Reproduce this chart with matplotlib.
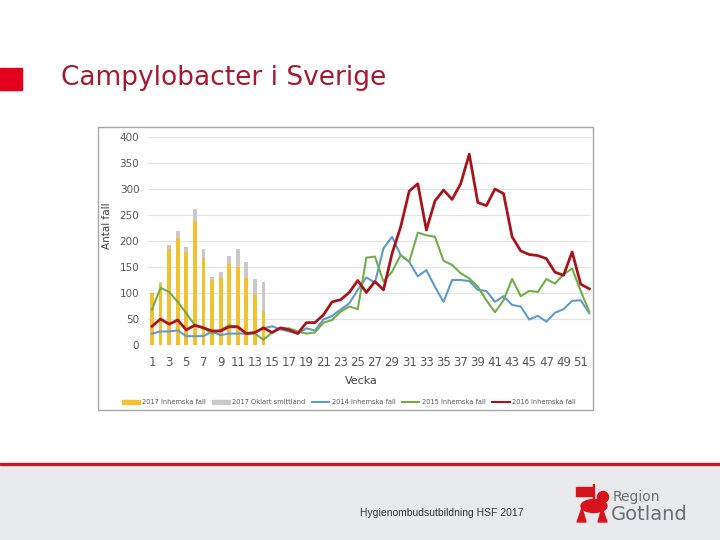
import numpy as np
import matplotlib.pyplot as plt
from matplotlib.patches import Rectangle, Ellipse, Polygon
from matplotlib.lines import Line2D
from matplotlib.patches import Patch

weeks = np.arange(1, 53)
bar_weeks = np.arange(1, 15)

# 2017 (weeks 1-14), stacked
inhemska_2017 = [100, 118, 184, 205, 179, 238, 168, 125, 128, 156, 150, 128, 98, 66]
oklart_2017 = [0, 4, 8, 15, 10, 24, 17, 5, 12, 16, 34, 32, 29, 55]

inhemska_2014 = [22, 26, 26, 28, 17, 17, 17, 26, 19, 22, 22, 22, 24, 32, 36, 30,
                 26, 22, 32, 28, 49, 56, 68, 80, 106, 130, 120, 186, 208, 173,
                 160, 132, 144, 112, 83, 125, 125, 123, 106, 104, 83, 94, 77, 74,
                 49, 56, 45, 62, 69, 85, 86, 61]
inhemska_2015 = [68, 110, 102, 83, 61, 38, 33, 22, 29, 38, 35, 22, 22, 10, 24, 32,
                 32, 26, 22, 24, 43, 48, 64, 74, 69, 168, 170, 122, 141, 173,
                 160, 216, 211, 208, 162, 154, 138, 128, 112, 86, 63, 86, 127, 94,
                 104, 102, 127, 118, 136, 147, 104, 64]
inhemska_2016 = [36, 50, 40, 48, 29, 38, 33, 27, 27, 35, 35, 22, 24, 33, 24, 33,
                 29, 22, 43, 43, 58, 83, 87, 101, 124, 101, 122, 106, 176, 227,
                 296, 310, 221, 277, 298, 280, 310, 367, 274, 268, 300, 291, 208, 181,
                 174, 172, 166, 140, 134, 179, 117, 108]

legend_labels = ["2017 Inhemska fall", "2017 Oklart smittland", "2014 Inhemska fall",
                 "2015 Inhemska fall", "2016 Inhemska fall"]

c_yellow = "#f2c12e"
c_grey = "#c9c9c9"
c_blue = "#5f9bcc"
c_green = "#72ad47"
c_red = "#a8141c"
c_text = "#595959"

fig = plt.figure(figsize=(7.2, 5.4), dpi=100)
W, H = 720, 540


def fx(px):
    return px / W


def fy(py):
    return 1 - py / H


# title area
fig.patches.append(Rectangle((0, fy(90)), fx(22), 22 / H, transform=fig.transFigure,
                             color="#e2001a", zorder=1))
fig.text(fx(61), fy(78), "Campylobacter i Sverige", fontsize=19, color="#a51931",
         va="center", ha="left")

# chart image frame
fig.patches.append(Rectangle((fx(98), fy(410)), fx(495), 283 / H, transform=fig.transFigure,
                             facecolor="white", edgecolor="#a6a6a6", lw=1, zorder=0))

L, R = 147.7, 591.0
ax = fig.add_axes([fx(L), fy(345), fx(R - L), (345 - 137) / H], zorder=5)
ax.bar(bar_weeks, inhemska_2017, width=0.45, color=c_yellow, zorder=2)
ax.bar(bar_weeks, oklart_2017, width=0.45, bottom=inhemska_2017, color=c_grey, zorder=2)
ax.plot(weeks, inhemska_2014, color=c_blue, lw=1.5, zorder=3)
ax.plot(weeks, inhemska_2015, color=c_green, lw=1.5, zorder=3)
ax.plot(weeks, inhemska_2016, color=c_red, lw=2, zorder=4)

ax.set_xlim(0.5, 52.2)
ax.set_ylim(0, 400)
ax.set_yticks(np.arange(0, 401, 50))
ax.set_xticks(np.arange(1, 52, 2))
ax.grid(axis="y", color="#e3e3e3", lw=0.8, zorder=0)
ax.set_axisbelow(True)
for s in ax.spines.values():
    s.set_visible(False)
ax.tick_params(length=0, colors=c_text, labelsize=8.5)
ax.tick_params(axis="x", pad=8)
ax.tick_params(axis="y", labelsize=7.5, pad=6)
ax.patch.set_alpha(0)

fig.text(fx(107), fy(226), "Antal fall", rotation=90, fontsize=7.5, color="#404040",
         ha="center", va="center")
fig.text(fx(361), fy(381), "Vecka", fontsize=8, color="#404040", ha="center", va="center")

handles = [Patch(color=c_yellow), Patch(color=c_grey),
           Line2D([], [], color=c_blue, lw=1.5), Line2D([], [], color=c_green, lw=1.5),
           Line2D([], [], color=c_red, lw=1.5)]
fig.legend(handles, legend_labels, loc="center", bbox_to_anchor=(fx(349), fy(402)),
           ncol=5, frameon=False, fontsize=4.8, handlelength=2.6, handleheight=0.6,
           columnspacing=1.0, handletextpad=0.35, labelcolor=c_text)

# footer
fig.patches.append(Rectangle((0, 0), 1, fy(465), transform=fig.transFigure,
                             color="#e8e9ea", zorder=0))
fig.patches.append(Rectangle((0, fy(465)), 1, 2.5 / H, transform=fig.transFigure,
                             color="#c0172d", zorder=1))
fig.text(fx(442), fy(513), "Hygienombudsutbildning HSF 2017", fontsize=7.5,
         color="#333333", ha="center", va="center", family="Liberation Sans")

# logo (simple sketch of the ram + text)
fig.patches.append(Ellipse((fx(594), fy(506)), fx(26), 13 / H, transform=fig.transFigure,
                           color="#d7141e", zorder=2))
fig.patches.append(Polygon([(fx(577), fy(522)), (fx(582), fy(508)), (fx(586), fy(522))],
                           closed=True, transform=fig.transFigure, color="#d7141e", zorder=2))
fig.patches.append(Polygon([(fx(598), fy(522)), (fx(602), fy(508)), (fx(607), fy(522))],
                           closed=True, transform=fig.transFigure, color="#d7141e", zorder=2))
fig.patches.append(Ellipse((fx(603), fy(497)), fx(11), 11 / H, transform=fig.transFigure,
                           color="#d7141e", zorder=2))
fig.patches.append(Rectangle((fx(576), fy(496)), fx(16), 9 / H, transform=fig.transFigure,
                             color="#d7141e", zorder=2))
fig.patches.append(Rectangle((fx(593), fy(500)), fx(1.2), 16 / H, transform=fig.transFigure,
                             color="#d7141e", zorder=2))
fig.text(fx(613), fy(497), "Region", fontsize=10, color="#6d6e71", ha="left", va="center")
fig.text(fx(611), fy(515), "Gotland", fontsize=14, color="#6d6e71", ha="left", va="center")

fig.savefig("out.png", dpi=100)
